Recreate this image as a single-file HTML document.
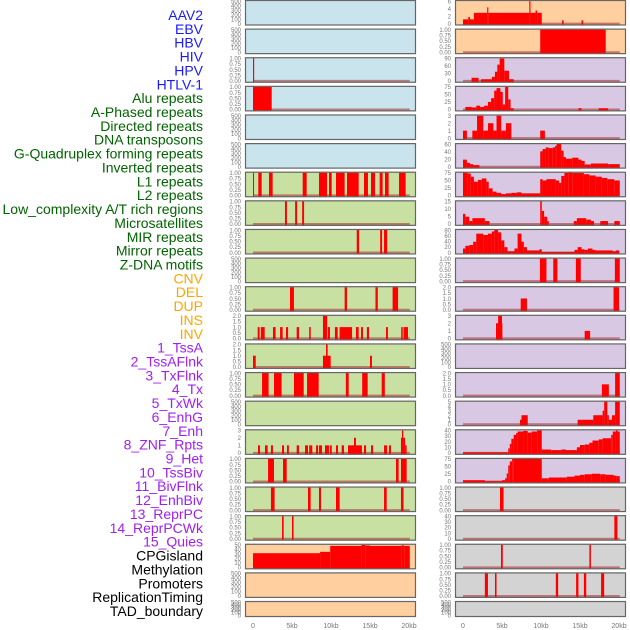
<!DOCTYPE html>
<html><head><meta charset="utf-8"><style>
html,body{margin:0;padding:0;background:#fff;width:630px;height:630px;overflow:hidden}
svg{display:block;font-family:"Liberation Sans",sans-serif}
</style></head><body>
<svg id="chart" width="630" height="630" viewBox="0 0 630 630"></svg>
<script>
// ---- track labels ----
const trackLabels = ["AAV2","EBV","HBV","HIV","HPV","HTLV-1","Alu repeats","A-Phased repeats","Directed repeats","DNA transposons","G-Quadruplex forming repeats","Inverted repeats","L1 repeats","L2 repeats","Low_complexity A/T rich regions","Microsatellites","MIR repeats","Mirror repeats","Z-DNA motifs","CNV","DEL","DUP","INS","INV","1_TssA","2_TssAFlnk","3_TxFlnk","4_Tx","5_TxWk","6_EnhG","7_Enh","8_ZNF_Rpts","9_Het","10_TssBiv","11_BivFlnk","12_EnhBiv","13_ReprPC","14_ReprPCWk","15_Quies","CPGisland","Methylation","Promoters","ReplicationTiming","TAD_boundary"];
const labelGroups = ["virus","virus","virus","virus","virus","virus","repeat","repeat","repeat","repeat","repeat","repeat","repeat","repeat","repeat","repeat","repeat","repeat","repeat","sv","sv","sv","sv","sv","chrom","chrom","chrom","chrom","chrom","chrom","chrom","chrom","chrom","chrom","chrom","chrom","chrom","chrom","chrom","other","other","other","other","other"];
const xTickValues = [0,5,10,15,20];
const xTickLabels = ["0","5kb","10kb","15kb","20kb"];
// ---- tick label sets ----
const ticks500 = ["0","100","200","300","400","500"];
const ticksBin = ["0.00","0.25","0.50","0.75","1.00"];
const ticks2 = ["0.0","0.5","1.0","1.5","2.0"];
const ticks3 = ["0","1","2","3"];
const ticks50 = ["0","10","20","30","40","50"];
const ticks6 = ["0","2","4","6"];
const ticks90 = ["0","30","60","90"];
const ticks75 = ["0","25","50","75"];
const ticks60 = ["0","20","40","60"];
const ticks15 = ["0","5","10","15"];
const ticks80 = ["0","20","40","60","80"];
const ticks5 = ["0","1","2","3","4","5"];
const ticks40 = ["0","10","20","30","40"];
// ---- segment data [startKb, endKb, value] ----
const L2 = [[0,0.15,1]];
const L3 = [[0,2.4,1]];
const L6 = [[0,0.13,1],[0.68,1.11,1],[2.05,2.52,1],[6.37,6.88,1],[8.46,9.49,1],[9.74,10.09,1],[10.64,11.75,1],[12.05,13.55,1],[14.23,14.74,1],[15.13,15.64,1],[16.24,16.62,1],[16.92,17.39,1],[18.72,19.57,1]];
const L7 = [[4.1,4.35,1],[5.4,5.65,1],[6.3,6.55,1]];
const L8 = [[13.3,13.6,1],[16.3,16.55,1],[16.8,17.2,1]];
const L10 = [[4.74,5.25,1],[11.75,12.05,1],[15.7,16.0,1],[17.9,18.6,1]];
const L11 = [[0.6,0.85,1],[1.0,1.5,1],[2.56,2.9,1],[3.47,3.8,1],[4.23,4.5,1],[5.6,5.9,1],[7.2,7.4,1],[8.97,9.5,2],[9.6,9.87,1],[10.5,10.86,1],[11.1,12.7,1],[13.2,13.55,1],[13.85,14.1,1],[14.6,14.87,1],[17.05,17.3,1],[19.0,19.2,1],[19.3,19.87,1]];
const L12 = [[0,0.35,1],[8.97,9.96,1],[9.36,9.57,2],[15.0,15.25,1]];
const L13 = [[1.16,2.0,1],[2.69,3.67,1],[5.25,6.5,1],[6.93,8.42,1],[11.9,12.27,1],[14.0,14.7,1],[16.5,16.9,1]];
const L15 = [[0.64,0.9,1],[1.54,1.88,1],[2.3,2.56,1],[3.72,3.98,1],[4.36,4.6,1],[5.6,5.9,1],[6.67,7.05,1],[7.2,7.6,1],[8.08,8.34,1],[8.46,8.85,1],[9.23,9.74,1],[9.87,10.1,1],[10.64,10.9,1],[11.37,11.67,1],[12.18,12.95,1],[12.95,13.2,2],[13.2,13.97,1],[14.23,14.5,1],[15.13,15.4,1],[16.8,17.18,1],[17.43,17.69,1],[18.97,19.27,2],[19.1,19.27,3],[19.27,19.5,2],[19.5,19.7,1]];
const L16 = [[1.93,2.69,1],[3.85,4.32,1],[18.33,18.67,1],[18.97,19.7,1]];
const L17 = [[2.3,2.77,1],[7.05,7.39,1],[8.46,8.72,1],[10.64,11.11,1],[16.8,17.14,1],[18.97,19.3,1]];
const L18 = [[3.72,3.93,1],[5.0,5.2,1]];
const L19 = [[0,8.6,31],[8.6,9.9,34],[9.9,13.9,47],[13.9,14.4,49],[14.4,15.0,48],[15.0,19.0,47],[19.0,19.4,48],[19.4,20.1,47]];
const R0 = [[0,0.68,1.3],[0.68,0.9,2],[0.9,1.4,1.3],[1.4,3.1,3.3],[3.1,3.25,5],[3.25,8.5,3.3],[8.5,8.65,7.5],[8.65,9.3,3.3],[9.3,9.5,4],[9.5,10.1,3.3],[12.7,12.9,1],[15.2,15.4,1]];
const R1 = [[9.9,18.3,1]];
const R2 = [[1.1,2.0,15],[2.3,3.7,8],[3.7,4.1,20],[4.1,4.4,45],[4.4,4.7,80],[4.7,5.3,110],[5.3,5.9,50],[5.9,6.5,8]];
const R3 = [[0.3,1.1,10],[1.1,1.7,8],[1.7,2.2,15],[2.2,2.7,10],[2.7,3.2,15],[3.2,3.6,30],[3.6,4.0,45],[4.0,4.3,75],[4.3,4.8,85],[4.8,5.1,70],[5.1,5.4,20],[5.4,5.8,90],[5.8,6.1,40],[6.1,6.5,5],[14.8,15.2,5],[17.4,18.6,5]];
const R4 = [[0,0.5,1],[1.2,1.8,1],[1.8,2.6,3],[2.6,3.2,1],[3.2,3.9,2],[3.9,4.3,1],[4.3,4.9,3],[4.9,5.5,1],[5.5,6.2,2],[9.9,10.5,1]];
const R5 = [[0,0.5,22],[0.5,0.9,12],[0.9,1.3,8],[1.3,2.1,5],[9.9,10.2,48],[10.2,10.6,55],[10.6,11.0,60],[11.0,11.5,58],[11.5,11.8,60],[11.8,12.0,65],[12.0,12.6,72],[12.6,12.9,50],[12.9,13.2,30],[13.2,14.0,25],[14.0,14.8,28],[14.8,15.2,22],[15.2,15.6,18],[15.6,16.4,7],[16.4,18.6,10],[18.6,20.1,8]];
const R6 = [[0,0.6,92],[0.6,1.0,88],[1.0,1.4,75],[1.4,1.9,55],[1.9,2.4,62],[2.4,3.0,68],[3.0,3.3,55],[3.3,3.8,28],[3.8,4.3,15],[4.3,4.9,10],[4.9,5.5,5],[5.5,6.2,8],[6.2,6.9,10],[6.9,7.5,12],[7.5,9.9,8],[9.9,10.2,65],[10.2,10.7,60],[10.7,11.9,65],[11.9,12.3,60],[12.3,12.6,50],[12.6,13.0,78],[13.0,13.5,90],[13.5,14.0,92],[14.0,15.5,90],[15.5,16.2,85],[16.2,17.0,80],[17.0,17.8,75],[17.8,18.5,70],[18.5,19.4,65],[19.4,20.1,60]];
const R7 = [[0,0.3,7],[0.3,0.8,5],[0.8,1.2,2],[1.2,2.8,4],[2.8,3.4,2],[9.9,10.1,16],[10.1,10.4,9],[10.4,10.8,5],[10.8,11.0,2],[14.2,14.6,2],[14.6,15.8,4],[15.8,16.4,3],[16.4,16.8,2],[17.6,18.6,2],[19.4,20.1,2]];
const R8 = [[0,0.3,15],[0.3,0.8,25],[0.8,1.3,28],[1.3,1.7,40],[1.7,2.6,70],[2.6,3.2,65],[3.2,3.7,70],[3.7,4.0,78],[4.0,4.5,85],[4.5,4.9,75],[4.9,5.3,45],[5.3,5.7,20],[5.7,6.6,5],[6.6,7.0,15],[7.0,7.5,70],[7.5,7.8,40],[7.8,8.2,20],[8.2,9.8,8],[9.8,10.1,12],[10.1,14.3,2],[14.3,14.7,10],[14.7,15.2,20],[15.2,15.6,12],[15.6,16.0,10],[16.0,16.6,15],[16.6,17.0,10],[17.0,19.2,8],[19.2,19.6,5],[19.6,20.0,8]];
const R9 = [[9.86,10.7,1],[11.57,12.1,1],[14.47,15.1,1],[19.47,20.1,1]];
const R10 = [[7.4,8.2,1],[19.3,20.0,2]];
const R11 = [[4.23,5.05,2],[4.5,5.0,3],[15.6,16.3,1]];
const R13 = [[17.8,18.7,1],[19.5,20.1,2]];
const R14 = [[7.3,7.5,1],[7.5,8.3,2],[14.7,16.7,1],[16.7,17.9,2],[17.9,18.1,3],[18.1,18.5,5],[18.5,18.7,2],[18.7,19.1,1],[19.1,19.5,2],[19.5,20.1,5]];
const R15 = [[0,5.8,1],[5.8,6.0,8],[6.0,6.2,16],[6.2,6.5,25],[6.5,6.8,32],[6.8,7.0,35],[7.0,7.7,38],[7.7,8.3,39],[8.3,8.8,36],[8.8,9.5,38],[9.5,10.1,40],[10.1,11.3,6],[11.3,12.6,5],[12.6,13.2,6],[13.2,14.6,5],[14.6,15.0,10],[15.0,15.6,14],[15.6,16.2,15],[16.2,16.6,18],[16.6,17.4,22],[17.4,17.9,24],[17.9,19.0,26],[19.0,19.2,32],[19.2,19.6,38],[19.6,19.8,40],[19.8,20.1,38]];
const R16 = [[0,2.8,5],[2.8,5.0,1],[5.0,5.4,5],[5.4,5.6,12],[5.6,5.8,30],[5.8,6.0,60],[6.0,6.3,75],[6.3,6.5,85],[6.5,10.1,88],[10.1,11.0,12],[11.0,13.3,15],[13.3,14.3,18],[14.3,15.0,22],[15.0,15.6,25],[15.6,16.5,27],[16.5,17.6,29],[17.6,18.3,27],[18.3,19.3,25],[19.3,19.7,22],[19.7,20.1,20]];
const R17 = [[4.74,5.2,1]];
const R18 = [[19.4,19.8,65]];
const R19 = [[4.87,5.1,1],[16.2,16.4,1]];
const R20 = [[2.8,3.2,1],[4.1,4.3,1],[11.9,12.2,1],[14.5,14.8,1],[15.5,15.8,1],[17.7,18.1,1]];
const BLANK = [];

const C = {blue:"#c9e4ec",green:"#c8e0a2",peach:"#ffcf9f",lav:"#d8c8e4",gray:"#d3d3d3"};
// panel specs: [segments, tickLabels, ymax, bg]
const leftPanels = [
 [BLANK,ticks500,510,C.blue],[BLANK,ticks500,510,C.blue],[L2,ticksBin,1.02,C.blue],[L3,ticksBin,1.02,C.blue],[BLANK,ticks500,510,C.blue],
 [BLANK,ticks500,510,C.blue],[L6,ticksBin,1.02,C.green],[L7,ticksBin,1.02,C.green],[L8,ticksBin,1.02,C.green],[BLANK,ticks500,510,C.green],
 [L10,ticksBin,1.02,C.green],[L11,ticks2,2.04,C.green],[L12,ticks2,2.04,C.green],[L13,ticksBin,1.02,C.green],[BLANK,ticks500,510,C.green],
 [L15,ticks3,3.05,C.green],[L16,ticksBin,1.02,C.green],[L17,ticksBin,1.02,C.green],[L18,ticksBin,1.02,C.green],
 [L19,ticks50,50.5,C.peach],[BLANK,ticks500,510,C.peach],[BLANK,ticks500,510,C.peach]
];
const rightPanels = [
 [R0,ticks6,7.07,C.peach],[R1,ticksBin,1.02,C.peach],[R2,ticks90,114,C.lav],[R3,ticks75,92,C.lav],[R4,ticks3,3.1,C.lav],
 [R5,ticks60,72,C.lav],[R6,ticks75,93,C.lav],[R7,ticks15,16,C.lav],[R8,ticks80,85.5,C.lav],[R9,ticksBin,1.02,C.lav],
 [R10,ticks2,2.04,C.lav],[R11,ticks3,3.05,C.lav],[BLANK,ticks500,510,C.lav],[R13,ticks2,2.04,C.lav],[R14,ticks5,5.1,C.lav],
 [R15,ticks40,41,C.lav],[R16,ticks75,86,C.lav],[R17,ticksBin,1.02,C.gray],[R18,ticks40,63,C.gray],[R19,ticksBin,1.02,C.gray],
 [R20,ticksBin,1.02,C.gray],[BLANK,ticks500,510,C.gray]
];

const NS="http://www.w3.org/2000/svg";
const svg=document.getElementById('chart');
function mk(tag,attrs,parent){const e=document.createElementNS(NS,tag);for(const k in attrs)e.setAttribute(k,attrs[k]);(parent||svg).appendChild(e);return e;}
const groupColors={virus:"#1a1aff",repeat:"#006400",sv:"#ffa500",chrom:"#a020f0",other:"#000000"};
const PITCH=28.62, PW=171, XSPAN=7.8;

trackLabels.forEach((t,i)=>{
  const el=mk('text',{x:203,y:20+i*13.86,'text-anchor':'end','font-size':14,fill:groupColors[labelGroups[i]]});
  el.textContent=t;
  
  
});

function drawPanel(spec,row,left,col){
  const [segs,tl,ymax,bg]=spec;
  const top=row*PITCH;
  const h=(row===21)?16:25.5;
  const zeroY=top+h-1.9, span=h-2.4;
  const ys=v=>zeroY-v/ymax*span;
  const xs=kb=>left+8+kb*XSPAN;
  const g=mk('g',{});
  
  
  const cid='clip-'+col+row;
  const cp=mk('clipPath',{id:cid},g);mk('rect',{x:left,y:top,width:PW,height:h},cp);
  const bgr=mk('rect',{x:left,y:top,width:PW,height:h,fill:bg},g);
  
  
  const mg=mk('g',{'clip-path':'url(#'+cid+')'},g);
  if(segs.length){
    const bl=mk('line',{x1:xs(0),x2:xs(20.1),y1:zeroY,y2:zeroY,stroke:'rgba(170,40,40,0.55)','stroke-width':2},mg);
    
    
  }
  segs.forEach(s=>{
    const y=ys(s[2]);
    const r=mk('rect',{x:xs(s[0]),y:y,width:Math.max(0.8,xs(s[1])-xs(s[0])),height:(top+h)-y,fill:'#ff0000'},mg);
    
    
  });
  const br=mk('rect',{x:left+0.5,y:top+0.5,width:PW-1,height:h-1,fill:'none',stroke:'#666','stroke-width':1.2},g);
  
  
  const n=tl.length-1;
  tl.forEach((lab,i)=>{
    const v=i/n;
    const ty=zeroY - v*(span-0.6);
    const t=mk('text',{x:left-4,y:ty+2.2,'text-anchor':'end','font-size':6,fill:'#777'},g);
    t.textContent=lab;
    
    
  });
}
leftPanels.forEach((p,i)=>drawPanel(p,i,245,'left'));
rightPanels.forEach((p,i)=>drawPanel(p,i,455,'right'));

[245,455].forEach(left=>{
  xTickValues.forEach((v,i)=>{
    const t=mk('text',{x:left+8+v*XSPAN,y:628,'text-anchor':'middle','font-size':7,fill:'#777'});
    t.textContent=xTickLabels[i];
    
    
  });
});
</script>
</body></html>
